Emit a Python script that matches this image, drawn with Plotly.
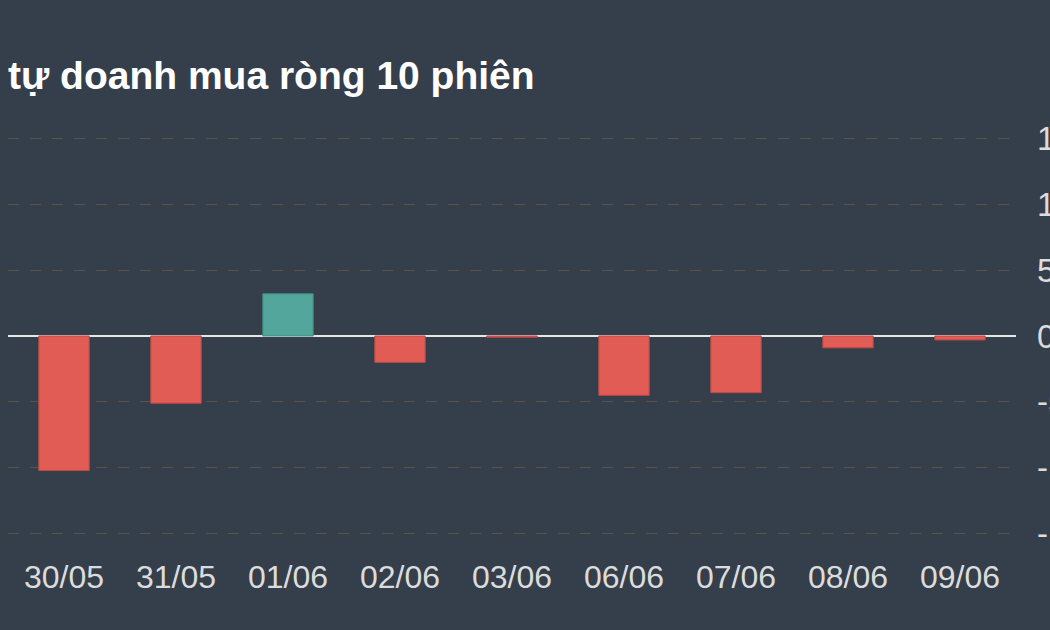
import plotly.graph_objects as go

# Data
sessions = ["30/05", "31/05", "01/06", "02/06", "03/06", "06/06", "07/06", "08/06", "09/06"]
net_buy = [-102, -51, 32, -20, -1, -45, -43, -9, -3]
y_ticks = [150, 100, 50, 0, -50, -100, -150]

title_text = "tự doanh mua ròng 10 phiên"

bg = "#343f4b"
pos_color = "#52a69b"
neg_color = "#e05c55"
colors = [pos_color if v >= 0 else neg_color for v in net_buy]
line_colors = ["#3f8a80" if v >= 0 else "#b84a45" for v in net_buy]

fig = go.Figure()
fig.add_trace(go.Bar(
    x=sessions, y=net_buy,
    marker=dict(color=colors, line=dict(color=line_colors, width=1)),
    hoverinfo="x+y",
))

fig.update_layout(
    width=1050, height=630,
    paper_bgcolor=bg, plot_bgcolor=bg,
    margin=dict(l=8, r=34, t=121, b=83, autoexpand=False),
    bargap=0.55,
    showlegend=False,
    font=dict(family="Liberation Sans, Arial, sans-serif", color="#dcdcdc"),
    title=dict(
        text="<b>" + title_text + "</b>",
        x=0, xref="paper", xanchor="left",
        y=1 - 75 / 630, yref="container", yanchor="middle",
        font=dict(size=39, color="#ffffff", family="Liberation Sans, Arial, sans-serif"),
    ),
    xaxis=dict(
        type="category",
        showgrid=False, showline=False, zeroline=False,
        ticks="", tickfont=dict(size=32, color="#dcdcdc"),
        ticklabelstandoff=8,
    ),
    yaxis=dict(
        side="right",
        range=[-160, 163],
        tickvals=y_ticks,
        ticktext=[str(v) if v >= 0 else "-" + str(-v) for v in y_ticks],
        showgrid=True, gridcolor="#5e5146", griddash="11px,11px", gridwidth=1,
        zeroline=True, zerolinecolor="#e6e6e6", zerolinewidth=2,
        showline=False, ticks="",
        tickfont=dict(size=33, color="#dcdcdc"),
        ticklabelstandoff=20,
    ),
)

fig.write_html("out.html")
